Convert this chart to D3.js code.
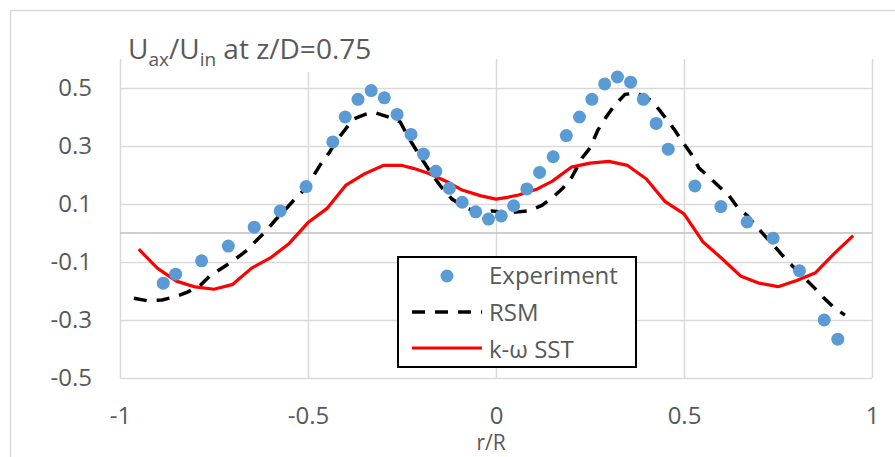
<!DOCTYPE html>
<html>
<head>
<meta charset="utf-8">
<script src="https://cdn.jsdelivr.net/npm/d3@7"></script>
<style>
  body { margin: 0; background: #fff; }
  text { font-family: "Open Sans", sans-serif; fill: #595959; }
</style>
</head>
<body>
<script>
// data
var expX = [-0.885, -0.852, -0.783, -0.712, -0.643, -0.574, -0.505, -0.434, -0.401, -0.367,
            -0.332, -0.297, -0.263, -0.226, -0.193, -0.160, -0.124, -0.090, -0.054, -0.020,
            0.014, 0.047, 0.082, 0.116, 0.152, 0.187, 0.222, 0.255, 0.289, 0.323,
            0.358, 0.392, 0.426, 0.458, 0.529, 0.598, 0.668, 0.737, 0.807, 0.873, 0.909];
var expY = [-0.173, -0.142, -0.096, -0.045, 0.020, 0.076, 0.160, 0.314, 0.400, 0.461,
            0.491, 0.466, 0.409, 0.340, 0.272, 0.213, 0.154, 0.106, 0.073, 0.048,
            0.059, 0.094, 0.152, 0.209, 0.263, 0.336, 0.400, 0.461, 0.514, 0.538,
            0.520, 0.461, 0.378, 0.289, 0.162, 0.091, 0.038, -0.018, -0.130, -0.300, -0.366];

var rsmX = [-0.963, -0.926, -0.888, -0.854, -0.819, -0.787, -0.761, -0.726, -0.694, -0.662,
            -0.636, -0.614, -0.588, -0.559, -0.537, -0.511, -0.484, -0.468, -0.444, -0.423,
            -0.402, -0.380, -0.348, -0.324, -0.282, -0.255, -0.229, -0.199, -0.178, -0.149,
            -0.117, -0.082, -0.043, -0.011, 0.019, 0.053, 0.085, 0.122, 0.152, 0.178,
            0.202, 0.229, 0.250, 0.271, 0.293, 0.314, 0.343, 0.375, 0.412, 0.436,
            0.473, 0.505, 0.521, 0.540, 0.561, 0.596, 0.620, 0.644, 0.668, 0.694,
            0.715, 0.745, 0.769, 0.848, 0.870, 0.899, 0.928];
var rsmY = [-0.225, -0.234, -0.231, -0.220, -0.203, -0.181, -0.148, -0.119, -0.091, -0.059,
            -0.024, 0.003, 0.043, 0.083, 0.114, 0.148, 0.200, 0.234, 0.276, 0.321,
            0.355, 0.393, 0.409, 0.416, 0.398, 0.383, 0.321, 0.259, 0.217, 0.164,
            0.117, 0.088, 0.069, 0.076, 0.072, 0.072, 0.076, 0.095, 0.124, 0.155,
            0.193, 0.259, 0.293, 0.355, 0.400, 0.438, 0.478, 0.483, 0.457, 0.422,
            0.359, 0.298, 0.269, 0.224, 0.200, 0.157, 0.128, 0.086, 0.060, 0.021,
            -0.010, -0.052, -0.088, -0.191, -0.222, -0.257, -0.283];

var sstX = [-0.95, -0.90, -0.85, -0.80, -0.75, -0.70, -0.65, -0.60, -0.55, -0.50,
            -0.45, -0.40, -0.35, -0.30, -0.25, -0.22, -0.18, -0.13, -0.09, -0.04,
            0.00, 0.03, 0.06, 0.11, 0.15, 0.20, 0.25, 0.30, 0.35, 0.40,
            0.45, 0.50, 0.55, 0.60, 0.65, 0.70, 0.75, 0.80, 0.85, 0.90, 0.95];
var sstY = [-0.056, -0.122, -0.166, -0.186, -0.194, -0.177, -0.121, -0.086, -0.036, 0.036,
            0.084, 0.164, 0.204, 0.233, 0.233, 0.223, 0.206, 0.177, 0.148, 0.128,
            0.117, 0.123, 0.131, 0.152, 0.179, 0.227, 0.241, 0.247, 0.233, 0.186,
            0.108, 0.066, -0.030, -0.087, -0.148, -0.173, -0.185, -0.164, -0.137, -0.070, -0.009];

var xTicks = [-1, -0.5, 0, 0.5, 1];
var yTicks = [-0.5, -0.3, -0.1, 0.1, 0.3, 0.5];
var seriesNames = ["Experiment", "RSM", "k-\u03c9 SST"];

var width = 895, height = 457;
var plot = {left: 120, right: 872, top: 59, bottom: 378};

var x = d3.scaleLinear().domain([-1, 1]).range([plot.left, plot.right]);
var y = d3.scaleLinear().domain([-0.5, 0.6]).range([plot.bottom, plot.top]);

// plain hyphen for negatives, like the original
function fmt(d) { return String(d); }
function fmt1(d) { return d.toFixed(1); }

var svg = d3.select("body").append("svg")
    .attr("width", width)
    .attr("height", height);

// chart border
svg.append("rect")
    .attr("x", 10.5).attr("y", 10.5)
    .attr("width", 900).attr("height", 500)
    .attr("fill", "#fff")
    .attr("stroke", "#d9d9d9")
    .attr("stroke-width", 1.5);

// y axis with gridlines
var yAxis = svg.append("g")
    .attr("transform", "translate(" + plot.left + ",0)")
    .call(d3.axisLeft(y).tickValues(yTicks)
      .tickSize(-(plot.right - plot.left)).tickPadding(28)
      .tickFormat(fmt1));
yAxis.select(".domain").remove();
yAxis.selectAll("line").attr("stroke", "#d9d9d9").attr("stroke-width", 1.5);
yAxis.selectAll("text")
    .style("font-family", "'Open Sans', sans-serif")
    .style("font-size", "24px")
    .attr("fill", "#595959");

// x axis with gridlines
var xAxis = svg.append("g")
    .attr("transform", "translate(0," + plot.bottom + ")")
    .call(d3.axisBottom(x).tickValues(xTicks)
      .tickSize(-(plot.bottom - plot.top)).tickPadding(29)
      .tickFormat(fmt));
xAxis.select(".domain").remove();
xAxis.selectAll("line").attr("stroke", "#d9d9d9").attr("stroke-width", 1.5);
xAxis.selectAll("text")
    .style("font-family", "'Open Sans', sans-serif")
    .style("font-size", "24px")
    .attr("fill", "#595959");

// horizontal axis line at y = 0
svg.append("line")
    .attr("x1", plot.left).attr("x2", plot.right)
    .attr("y1", y(0)).attr("y2", y(0))
    .attr("stroke", "#bfbfbf")
    .attr("stroke-width", 1.5);

// title (white box hides the top of gridlines)
svg.append("rect")
    .attr("x", 123).attr("y", 14)
    .attr("width", 262).attr("height", 58)
    .attr("fill", "#fff");

var title = svg.append("text")
    .attr("x", 128).attr("y", 59)
    .style("font-size", "28px");
title.append("tspan").text("U");
title.append("tspan").attr("dy", 7).style("font-size", "19px").text("ax");
title.append("tspan").attr("dy", -7).text("/U");
title.append("tspan").attr("dy", 7).style("font-size", "19px").text("in");
title.append("tspan").attr("dy", -7).text(" at z/D=0.75");

// axis title
svg.append("text")
    .attr("x", 491).attr("y", 450)
    .attr("text-anchor", "middle")
    .style("font-size", "21px")
    .text("r/R");

// lines
var line = d3.line()
    .x(function(d) { return x(d[0]); })
    .y(function(d) { return y(d[1]); });

svg.append("path")
    .datum(d3.zip(rsmX, rsmY))
    .attr("fill", "none")
    .attr("stroke", "#000")
    .attr("stroke-width", 3.5)
    .attr("stroke-dasharray", "13,10")
    .attr("d", line);

svg.append("path")
    .datum(d3.zip(sstX, sstY))
    .attr("fill", "none")
    .attr("stroke", "#ff0000")
    .attr("stroke-width", 3.2)
    .attr("stroke-linejoin", "round")
    .attr("d", line);

svg.append("g").selectAll("circle")
    .data(d3.zip(expX, expY))
  .enter().append("circle")
    .attr("cx", function(d) { return x(d[0]); })
    .attr("cy", function(d) { return y(d[1]); })
    .attr("r", 6.5)
    .attr("fill", "#5b9bd5");

// legend
var legend = svg.append("g");
legend.append("rect")
    .attr("x", 398).attr("y", 257)
    .attr("width", 238).attr("height", 110)
    .attr("fill", "#fff")
    .attr("stroke", "#000")
    .attr("stroke-width", 2);

legend.append("circle")
    .attr("cx", 447).attr("cy", 276)
    .attr("r", 6.5)
    .attr("fill", "#5b9bd5");
legend.append("line")
    .attr("x1", 412).attr("x2", 482)
    .attr("y1", 312).attr("y2", 312)
    .attr("stroke", "#000")
    .attr("stroke-width", 3.5)
    .attr("stroke-dasharray", "13,10");
legend.append("line")
    .attr("x1", 412).attr("x2", 482)
    .attr("y1", 348).attr("y2", 348)
    .attr("stroke", "#ff0000")
    .attr("stroke-width", 3.2);

legend.selectAll("text.lab")
    .data(seriesNames)
  .enter().append("text")
    .attr("class", "lab")
    .attr("x", 489)
    .attr("y", function(d, i) { return 284 + i * 37; })
    .style("font-size", "24px")
    .text(function(d) { return d; });
</script>
</body>
</html>
